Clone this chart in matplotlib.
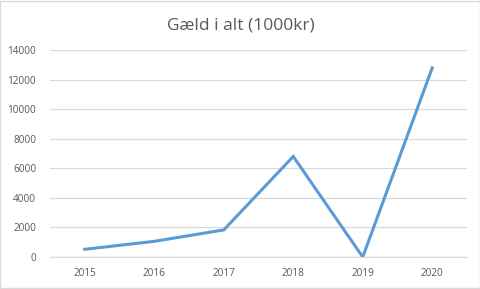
import numpy as np
import matplotlib
matplotlib.use("Agg")
import matplotlib.pyplot as plt

# data
years = ["2015", "2016", "2017", "2018", "2019", "2020"]
gaeld = [520, 1060, 1830, 6800, 0, 12790]
y_ticks = [0, 2000, 4000, 6000, 8000, 10000, 12000, 14000]

plt.rcParams['font.family'] = ['Open Sans', 'DejaVu Sans']

fig = plt.figure(figsize=(4.81, 2.89), dpi=100)
ax = fig.add_axes([50 / 481, 1 - 257 / 289, 417 / 481, 207 / 289])

x = np.arange(len(years))
ax.plot(x, gaeld, color="#5B9BD5", linewidth=2.2, solid_joinstyle="miter")

ax.set_xlim(-0.5, len(years) - 0.5)
ax.set_ylim(0, 14000)
ax.set_xticks(x)
ax.set_xticklabels(years)
ax.set_yticks(y_ticks)
ax.set_yticklabels([str(v) for v in y_ticks])
ax.yaxis.grid(True, color="#D9D9D9", linewidth=0.9)
ax.set_axisbelow(True)
ax.tick_params(length=0, labelsize=7.2, colors="#595959", pad=8)
ax.tick_params(axis="y", pad=10)
for side in ["top", "right", "left"]:
    ax.spines[side].set_visible(False)
ax.spines["bottom"].set_color("#D9D9D9")
ax.spines["bottom"].set_linewidth(0.9)

fig.text(0.5, 1 - 25 / 289, "Gæld i alt (1000kr)", ha="center", va="center",
         fontsize=12.5, color="#595959")

# light frame around the chart
fig.patches.append(plt.Rectangle((0.001, 0.002), 0.997, 0.995, transform=fig.transFigure,
                                 fill=False, edgecolor="#D9D9D9", linewidth=1))

fig.savefig("out.png", dpi=100)
